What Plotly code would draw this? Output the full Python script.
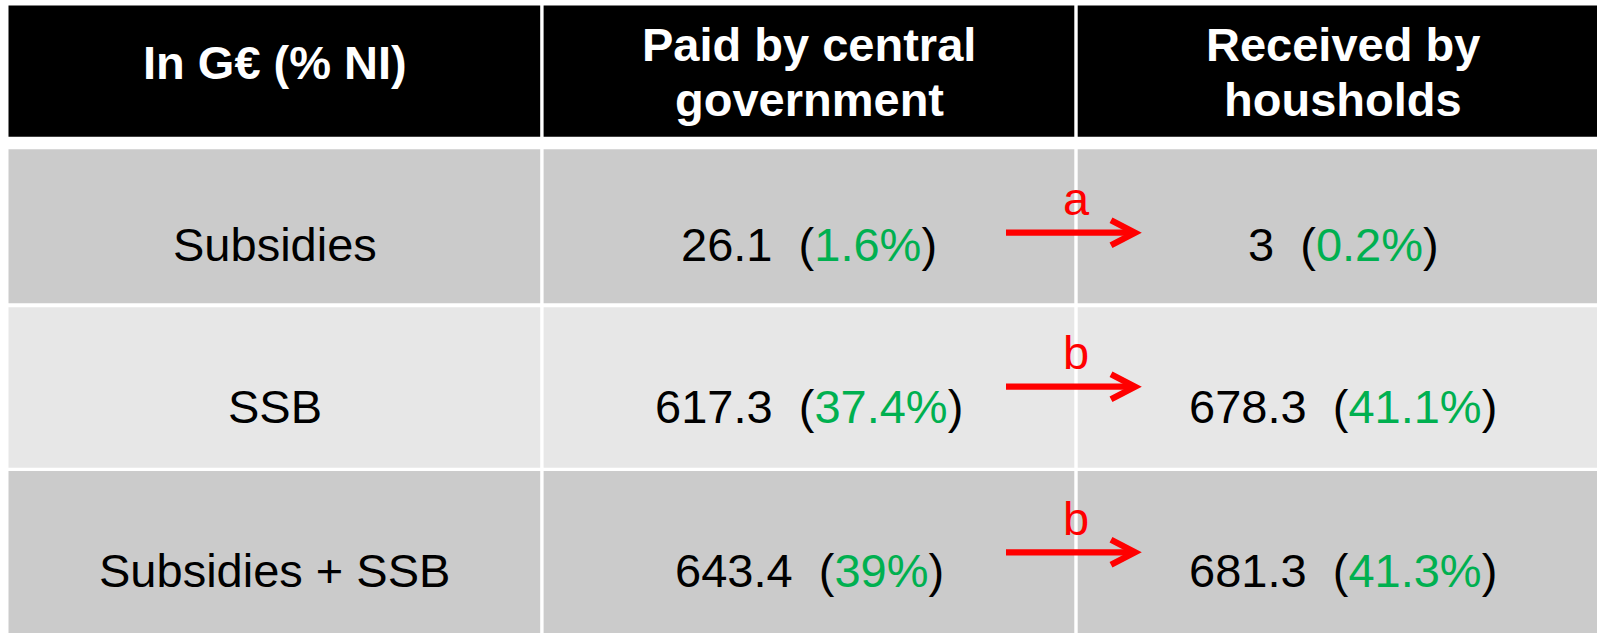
import plotly.graph_objects as go

# ---------------- data ----------------
headers = [["In G€ (% NI)"], ["Paid by central", "government"], ["Received by", "housholds"]]
categories = ["Subsidies", "SSB", "Subsidies + SSB"]
paid_value = [26.1, 617.3, 643.4]
paid_pct = [1.6, 37.4, 39]
received_value = [3, 678.3, 681.3]
received_pct = [0.2, 41.1, 41.3]
transfer_notes = ["a", "b", "b"]

# ---------------- layout constants (pixels) ----------------
W, H = 1597, 633
FONT = "Liberation Sans, Arial, sans-serif"
FS = 47
GREEN = "#00B050"
RED = "#FF0000"
ROW_FILLS = ["#CBCBCB", "#E7E7E7", "#CBCBCB"]

col_edges = [(8.5, 540.2), (543.6, 1074.3), (1077.7, 1610)]
col_text_x = [274.5, 809, 1343]
header_edges = (5.5, 136.7)
row_edges = [(149.3, 303.3), (307.3, 467.7), (471.0, 640.0)]
text_drop = 18.5            # text sits below the row centre
arrow_y = [232.7, 386.7, 552.3]
note_dy = 34                # note letter centre above arrow
boundary_x = col_edges[1][1] + 1.7
arrow_left, arrow_right = 70, 59
head_len, head_half = 24, 12.5
LW = 6.3

fig = go.Figure()
# invisible trace to set up axes
fig.add_trace(go.Scatter(x=[0, W], y=[0, H], mode="markers",
                         marker=dict(opacity=0), hoverinfo="skip", showlegend=False))

shapes = []
annotations = []

def fmt(v):
    return f"{v:g}"

# header cells
for ci, (x0, x1) in enumerate(col_edges):
    shapes.append(dict(type="rect", xref="x", yref="y", x0=x0, x1=x1,
                       y0=header_edges[0], y1=header_edges[1],
                       fillcolor="#000000", line=dict(width=0), layer="below"))
    lines = headers[ci]
    if len(lines) == 1:
        ys = [62.5]
    else:
        ys = [44.4, 99.0]
    for txt, yy in zip(lines, ys):
        annotations.append(dict(x=col_text_x[ci], y=yy, xref="x", yref="y",
                                text=f"<b>{txt}</b>", showarrow=False,
                                xanchor="center", yanchor="middle",
                                font=dict(family=FONT, size=FS, color="#FFFFFF")))

# body cells
for ri, (y0, y1) in enumerate(row_edges):
    for ci, (x0, x1) in enumerate(col_edges):
        shapes.append(dict(type="rect", xref="x", yref="y", x0=x0, x1=x1, y0=y0, y1=y1,
                           fillcolor=ROW_FILLS[ri], line=dict(width=0), layer="below"))
    yc = (y0 + min(y1, 633)) / 2 + text_drop
    if ri == 2:
        yc = 570.9
    texts = [
        categories[ri],
        f"{fmt(paid_value[ri])}\u00a0\u00a0(<span style='color:{GREEN}'>{fmt(paid_pct[ri])}%</span>)",
        f"{fmt(received_value[ri])}\u00a0\u00a0(<span style='color:{GREEN}'>{fmt(received_pct[ri])}%</span>)",
    ]
    for ci, t in enumerate(texts):
        annotations.append(dict(x=col_text_x[ci], y=yc, xref="x", yref="y", text=t,
                                showarrow=False, xanchor="center", yanchor="middle",
                                font=dict(family=FONT, size=FS, color="#000000")))
    # arrow
    ay = arrow_y[ri]
    xa0 = boundary_x - arrow_left
    xa1 = boundary_x + arrow_right
    shapes.append(dict(type="path", xref="x", yref="y",
                       path=f"M{xa0},{ay} L{xa1 - 2},{ay}",
                       line=dict(color=RED, width=LW), layer="above"))
    shapes.append(dict(type="path", xref="x", yref="y",
                       path=f"M{xa1 - head_len},{ay - head_half} L{xa1},{ay} L{xa1 - head_len},{ay + head_half}",
                       line=dict(color=RED, width=LW), layer="above"))
    annotations.append(dict(x=boundary_x, y=ay - note_dy, xref="x", yref="y",
                            text=transfer_notes[ri], showarrow=False,
                            xanchor="center", yanchor="middle",
                            font=dict(family=FONT, size=FS, color=RED)))

fig.update_layout(
    width=W, height=H,
    margin=dict(l=0, r=0, t=0, b=0),
    paper_bgcolor="#FFFFFF", plot_bgcolor="#FFFFFF",
    xaxis=dict(range=[0, W], visible=False, fixedrange=True),
    yaxis=dict(range=[H, 0], visible=False, fixedrange=True),
    shapes=shapes, annotations=annotations, showlegend=False,
)

fig.write_html(
    "out.html",
    config={"displayModeBar": False},
    post_script="document.body.style.margin='0';document.body.style.padding='0';"
                "document.body.style.overflow='hidden';"
                "document.documentElement.style.overflow='hidden';",
)
